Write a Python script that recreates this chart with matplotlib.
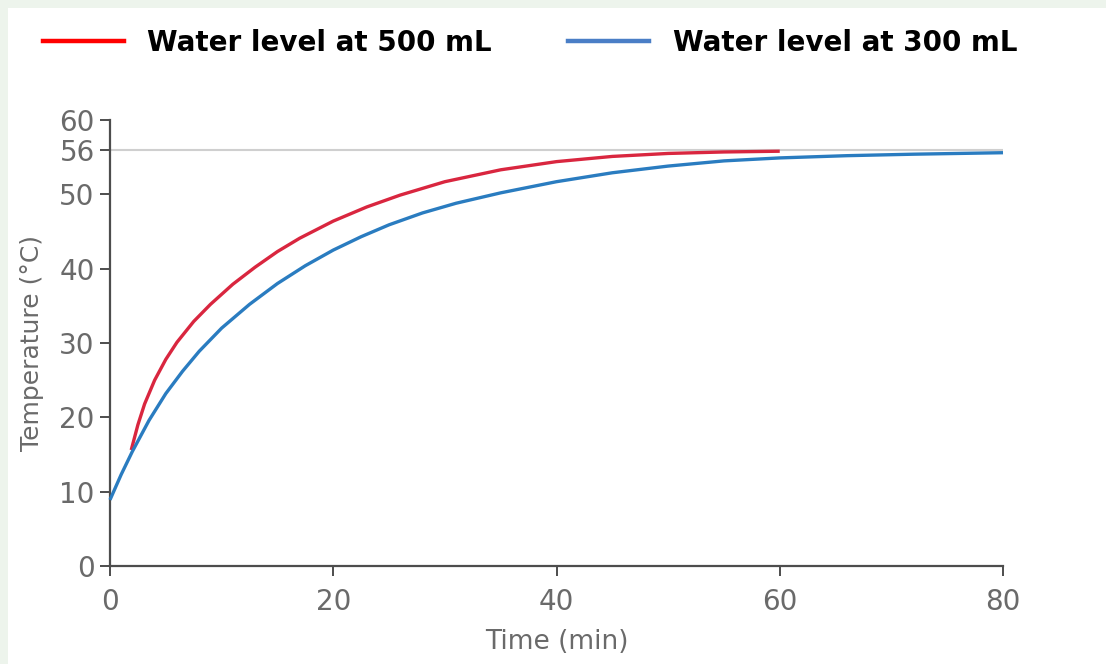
import matplotlib
matplotlib.use("Agg")
import matplotlib.pyplot as plt
from matplotlib.lines import Line2D
from matplotlib.patches import Rectangle

# Data
time_500 = [1.9, 2.5, 3.1, 4.0, 5.0, 6.0, 7.5, 9.0, 11.0, 13.0, 15.0, 17.0, 20.0, 23.0,
            26.0, 30.0, 35.0, 40.0, 45.0, 50.0, 55.0, 60.0]
temp_500 = [15.6, 19.0, 21.8, 25.0, 27.8, 30.1, 32.9, 35.2, 37.9, 40.2, 42.3, 44.1, 46.4, 48.3,
            49.9, 51.7, 53.3, 54.4, 55.1, 55.5, 55.7, 55.8]

time_300 = [0.0, 1.0, 2.0, 3.5, 5.0, 6.5, 8.0, 10.0, 12.5, 15.0, 17.5, 20.0, 22.5, 25.0,
            28.0, 31.0, 35.0, 40.0, 45.0, 50.0, 55.0, 60.0, 66.0, 72.0, 80.0]
temp_300 = [8.9, 12.3, 15.4, 19.6, 23.2, 26.2, 28.9, 32.0, 35.2, 38.0, 40.4, 42.5, 44.3, 45.9,
            47.5, 48.8, 50.2, 51.7, 52.9, 53.8, 54.5, 54.9, 55.2, 55.4, 55.6]

target_temp = 56
x_ticks = [0, 20, 40, 60, 80]
y_ticks = [0, 10, 20, 30, 40, 50, 56, 60]
series_labels = ["Water level at 500 mL", "Water level at 300 mL"]

W, H = 1106, 664
fig = plt.figure(figsize=(W / 100, H / 100), dpi=100)
fig.patch.set_facecolor("#edf4ec")
# white panel over the light green page background
fig.patches.append(Rectangle((8 / W, 0), 1, 1 - 8 / H, transform=fig.transFigure,
                             facecolor="white", edgecolor="none", zorder=-10))

ax = fig.add_axes([110 / W, 1 - 566 / H, (1003 - 110) / W, (566 - 120) / H])
ax.set_facecolor("none")
ax.set_zorder(2)

grey_txt = "#6a6a6a"
axis_col = "#4d4d4d"

ax.axhline(target_temp, color="#cfcfcf", lw=1.5, zorder=1)
ax.plot(time_500, temp_500, color="#d9263f", lw=2.4, clip_on=False, zorder=3,
        solid_capstyle="butt", solid_joinstyle="round")
ax.plot(time_300, temp_300, color="#2a7cc0", lw=2.4, clip_on=False, zorder=3,
        solid_capstyle="butt", solid_joinstyle="round")

ax.set_xlim(0, 80)
ax.set_ylim(0, 60)
ax.set_xticks(x_ticks)
ax.set_yticks(y_ticks)

for side in ["top", "right"]:
    ax.spines[side].set_visible(False)
for side in ["left", "bottom"]:
    ax.spines[side].set_color(axis_col)
    ax.spines[side].set_linewidth(1.6)

ax.tick_params(axis="both", direction="out", length=7, width=1.4, color=axis_col,
               labelsize=20, labelcolor=grey_txt)
ax.tick_params(axis="x", pad=9)
ax.tick_params(axis="y", pad=4)

ax.set_xlabel("Time (min)", fontsize=19, color=grey_txt, labelpad=9)
ax.set_ylabel("Temperature (°C)", fontsize=18, color=grey_txt, labelpad=11)

# legend at the top of the picture, colours differ a little from the curves
handles = [Line2D([], [], color="#ff0000", lw=3.2),
           Line2D([], [], color="#4a7ec6", lw=3.2)]
fig.legend(handles, series_labels, loc="upper left", bbox_to_anchor=(18 / W, 1 - 4 / H),
           ncol=2, frameon=False, handlelength=2.9, handletextpad=0.85,
           columnspacing=2.76, prop={"weight": "bold", "size": 20})

fig.savefig("out.png", dpi=100, facecolor=fig.get_facecolor())
